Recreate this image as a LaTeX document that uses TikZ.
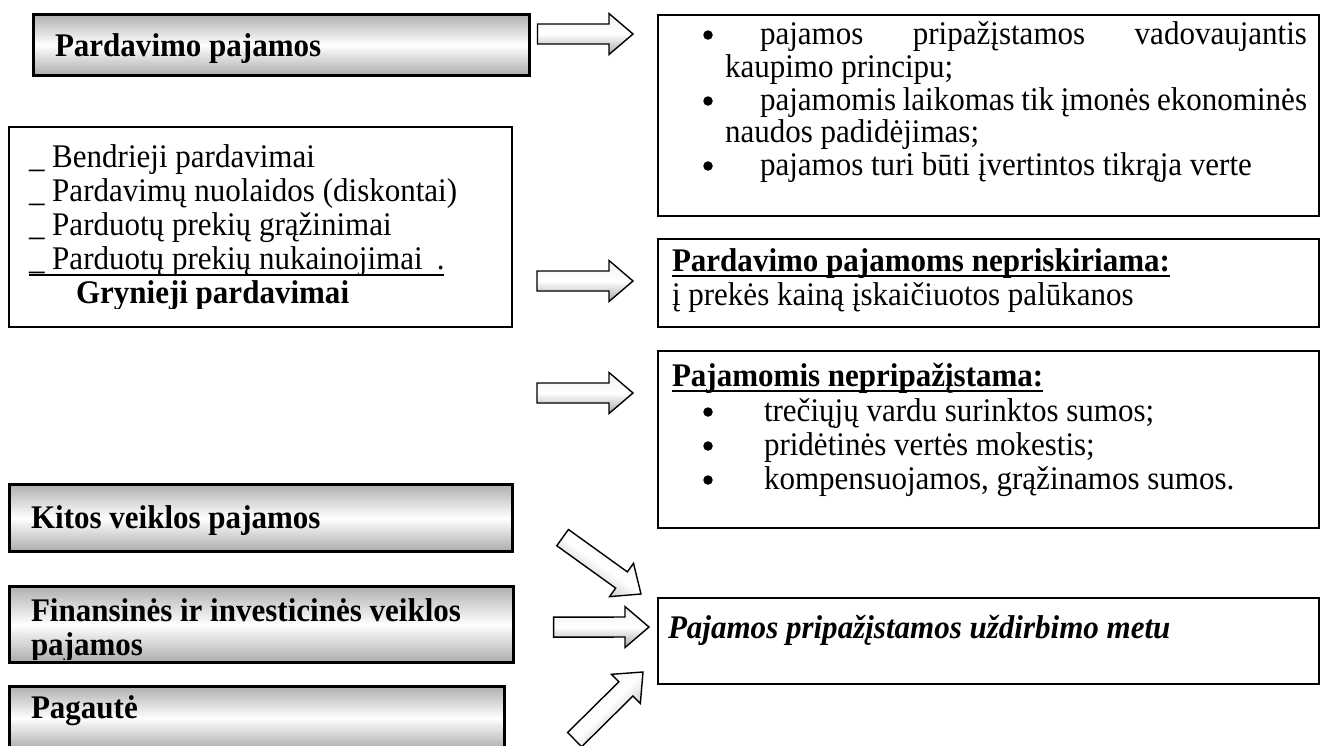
\documentclass[tikz,border=0pt]{standalone}
\usepackage{fontspec}
\setmainfont{Liberation Serif}[FakeStretch=0.94]
\usetikzlibrary{calc}

% block arrow from a tail point to a tip point
\newcommand\blockarrow[3]{%
  \path #2 coordinate (ba-t) #3 coordinate (ba-e);
  \path ($(ba-e)!24pt!(ba-t)$) coordinate (ba-h);
  \draw[#1]
    ($(ba-t)!10pt!90:(ba-e)$) -- ($(ba-h)!10pt!90:(ba-e)$) --
    ($(ba-h)!20.5pt!90:(ba-e)$) -- (ba-e) --
    ($(ba-h)!20.5pt!-90:(ba-e)$) -- ($(ba-h)!10pt!-90:(ba-e)$) --
    ($(ba-t)!10pt!-90:(ba-e)$) -- cycle;
}

\begin{document}
\begin{tikzpicture}[x=1pt,y=-1pt,
  every node/.style={inner sep=0pt, outer sep=0pt},
  txt/.style={anchor=base west, font=\fontsize{33}{34}\selectfont},
  btxt/.style={anchor=base west, font=\fontsize{33}{34}\selectfont\bfseries},
  headbox/.style={draw=black, line width=3.2pt, top color=gray!62,
    bottom color=gray!66, middle color=white, anchor=north west},
  infobox/.style={draw=black, line width=1.8pt, fill=white, anchor=north west},
  arrowshade/.style={draw=black, line width=1.4pt, line join=miter,
    top color=gray!12, bottom color=gray!68, middle color=white},
  uline/.style={line width=2pt},
  dot/.style={circle, fill=black, minimum size=9.5pt},
]
\useasboundingbox (0,0) rectangle (1321,745);
\fill[white] (0,0) rectangle (1321,745);

% ---- left column ----
\node[headbox, minimum width=496pt, minimum height=61pt] (sales) at (33.5,14.5) {};
\node[btxt] (salesT) at (55,56) {Pardavimo pajamos};

\node[infobox, minimum width=503pt, minimum height=200pt] (deductions) at (9,127) {};
\node[txt] (d1) at (29,167) {\_ Bendrieji pardavimai};
\node[txt] (d2) at (29,201) {\_ Pardavimų nuolaidos (diskontai)};
\node[txt] (d3) at (29,235) {\_ Parduotų prekių grąžinimai};
\node[txt] (d4) at (29,269) {\_ Parduotų prekių nukainojimai\hspace{14pt}.};
\draw[uline] ([yshift=-6pt]d4.base west) -- ([yshift=-6pt]d4.base east);
\begin{scope}
  \clip (0,0) rectangle (1321,308);
  \node[btxt] (net) at (76,303) {Grynieji pardavimai};
\end{scope}

\node[headbox, minimum width=503pt, minimum height=67pt] (other) at (9.6,484.6) {};
\node[btxt] (otherT) at (31,528) {Kitos veiklos pajamos};

\node[headbox, minimum width=504pt, minimum height=76pt] (fin) at (9.6,586.6) {};
\begin{scope}
  \clip (0,0) rectangle (1321,659);
  \node[btxt] (finT1) at (31,621) {Finansinės ir investicinės veiklos};
  \node[btxt] (finT2) at (31,655) {pajamos};
\end{scope}

% this box runs past the lower edge of the page
\node[headbox, minimum width=495pt, minimum height=63pt] (gain) at (9.6,686.6) {};
\node[btxt] (gainT) at (31,718) {Pagautė};

% ---- right column ----
\node[infobox, minimum width=661pt, minimum height=201pt] (rules) at (658,15) {};
\node[txt] (r1) at (760,44) {\makebox[547pt][s]{pajamos pripažįstamos vadovaujantis}};
\node[txt] (r2) at (725,77) {kaupimo principu;};
\node[txt] (r3) at (760,110) {\makebox[547pt][s]{pajamomis laikomas tik įmonės ekonominės}};
\node[txt] (r4) at (725,142) {naudos padidėjimas;};
\node[txt] (r5) at (760,175) {pajamos turi būti įvertintos tikrąja verte};
\foreach \l in {r1,r3,r5}
  \node[dot] (\l-dot) at ($(\l.base west)+(-52,-9)$) {};

\node[infobox, minimum width=661pt, minimum height=88pt] (excluded) at (658,239) {};
\node[btxt] (exH) at (672,271) {Pardavimo pajamoms nepriskiriama:};
\draw[uline] ([yshift=-5pt]exH.base west) -- ([yshift=-5pt]exH.base east);
\node[txt] (ex1) at (672,305) {į prekės kainą įskaičiuotos palūkanos};

\node[infobox, minimum width=661pt, minimum height=177pt] (notrec) at (658,351) {};
\node[btxt] (nrH) at (672,386) {Pajamomis nepripažįstama:};
\draw[uline] ([yshift=-5pt]nrH.base west) -- ([yshift=-5pt]nrH.base east);
\node[txt] (nr1) at (764,421) {trečiųjų vardu surinktos sumos;};
\node[txt] (nr2) at (764,455) {pridėtinės vertės mokestis;};
\node[txt] (nr3) at (764,489) {kompensuojamos, grąžinamos sumos.};
\foreach \l in {nr1,nr2,nr3}
  \node[dot] (\l-dot) at ($(\l.base west)+(-56,-9)$) {};

\node[infobox, minimum width=661pt, minimum height=86pt] (earned) at (658,598) {};
\node[btxt, font=\fontsize{33}{34}\selectfont\bfseries\itshape] (earnedT) at (668,638)
  {Pajamos pripažįstamos uždirbimo metu};

% ---- block arrows ----
\blockarrow{arrowshade}{($(sales.east)+(8,-11)$)}{($(rules.north west)+(-25,19)$)}
\blockarrow{arrowshade}{($(deductions.east)+(25,54)$)}{($(excluded.west)+(-25,-2)$)}
\blockarrow{arrowshade}{($(deductions.south east)+(25,66)$)}{($(notrec.north west)+(-25,42)$)}
\blockarrow{arrowshade}{($(fin.east)+(40,2.5)$)}{($(earned.west)+(-9,-14)$)}
\blockarrow{arrowshade, shading angle=-35.7}{($(other.east)+(50,19.5)$)}{($(earned.north west)+(-17,-4)$)}
\blockarrow{arrowshade, shading angle=44.6}{($(gain.north east)+(70,53)$)}{($(earned.south west)+(-15,-12)$)}
\end{tikzpicture}
\end{document}
